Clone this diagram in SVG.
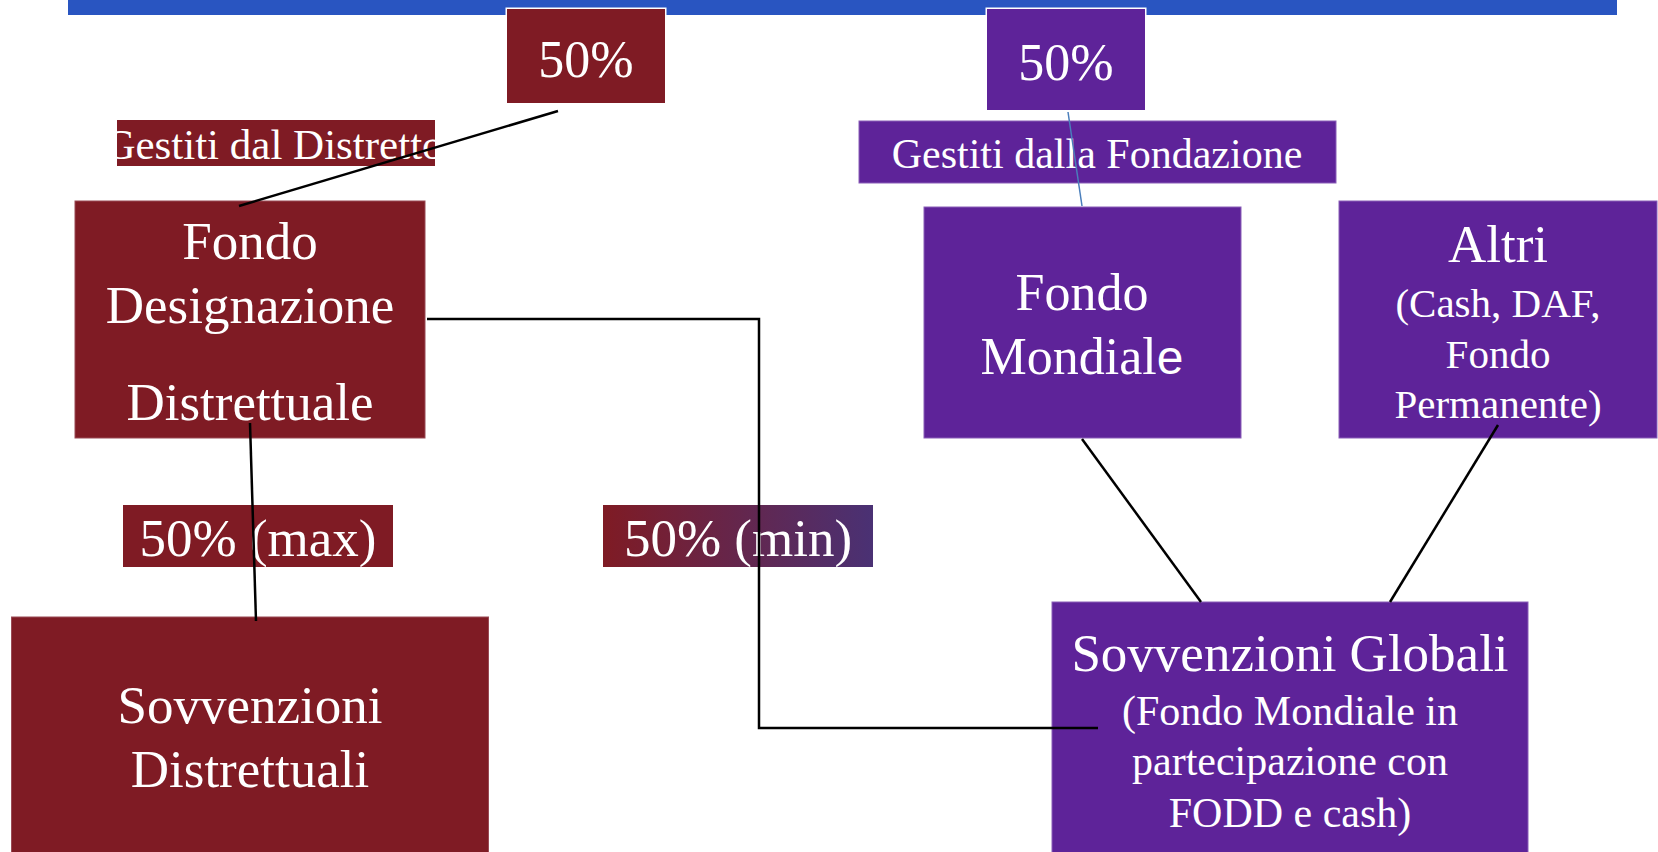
<svg xmlns="http://www.w3.org/2000/svg" width="1658" height="852" viewBox="0 0 1658 852">
<style>
.red{fill:#7F1B24;stroke:#9a4a55;stroke-width:1}
.pur{fill:#5E2399;stroke:#8a5fb8;stroke-width:1}
.t{font-family:"Liberation Serif","Times New Roman",serif;fill:#ffffff;text-anchor:middle}
.ln{fill:none;stroke:#000000;stroke-width:2.5}
</style>
<defs>
<linearGradient id="gmin" x1="0" y1="0" x2="1" y2="0">
<stop offset="0" stop-color="#7F1B24"/>
<stop offset="1" stop-color="#4A3174"/>
</linearGradient>
<clipPath id="clipGD"><rect x="117" y="120" width="318" height="46"/></clipPath>
</defs>
<rect id="bar" x="68" y="0" width="1549" height="15" fill="#2955C1"/>
<g id="n-50a">
<rect x="505.5" y="7.5" width="161" height="97" fill="#ffffff"/>
<rect x="507" y="9" width="158" height="94" fill="#7F1B24"/>
<text class="t" x="586" y="77" font-size="52">50%</text>
</g>
<g id="n-50b">
<rect x="985.5" y="7.5" width="161" height="104" fill="#ffffff"/>
<rect x="987" y="9" width="158" height="101" fill="#5E2399"/>
<text class="t" x="1066" y="80" font-size="52">50%</text>
</g>
<g id="n-gd">
<rect x="117" y="120" width="318" height="46" fill="#7F1B24"/>
<text class="t" x="274" y="159" font-size="43" clip-path="url(#clipGD)">Gestiti dal Distretto</text>
</g>
<g id="n-gf">
<rect class="pur" x="859" y="121" width="477" height="62"/>
<text class="t" x="1097" y="168" font-size="42">Gestiti dalla Fondazione</text>
</g>
<g id="n-fdd">
<rect class="red" x="75" y="201" width="350" height="237"/>
<text class="t" x="250" y="259" font-size="53">Fondo</text>
<text class="t" x="250" y="323" font-size="53">Designazione</text>
<text class="t" x="250" y="420" font-size="53">Distrettuale</text>
</g>
<g id="n-fm">
<rect class="pur" x="924" y="207" width="317" height="231"/>
<text class="t" x="1082" y="310" font-size="52">Fondo</text>
<text class="t" x="1082" y="374" font-size="52">Mondial<tspan font-family="Liberation Sans, Arial, sans-serif" font-size="48">e</tspan></text>
</g>
<g id="n-altri">
<rect class="pur" x="1339" y="201" width="318" height="237"/>
<text class="t" x="1498" y="262" font-size="53">Altri</text>
<text class="t" x="1498" y="317" font-size="41">(Cash, DAF,</text>
<text class="t" x="1498" y="368" font-size="41">Fondo</text>
<text class="t" x="1498" y="418" font-size="41">Permanente)</text>
</g>
<g id="n-max">
<rect x="123" y="505" width="270" height="62" fill="#7F1B24"/>
<text class="t" x="258" y="556" font-size="53">50% (max)</text>
</g>
<g id="n-min">
<rect x="603" y="505" width="270" height="62" fill="url(#gmin)"/>
<text class="t" x="738" y="556" font-size="53">50% (min)</text>
</g>
<g id="n-sd">
<rect class="red" x="11.5" y="617" width="477" height="240"/>
<text class="t" x="250" y="723" font-size="53">Sovvenzioni</text>
<text class="t" x="250" y="787" font-size="53">Distrettuali</text>
</g>
<g id="n-sg">
<rect class="pur" x="1052" y="602" width="476" height="255"/>
<text class="t" x="1290" y="671" font-size="53">Sovvenzioni Globali</text>
<text class="t" x="1290" y="725" font-size="42">(Fondo Mondiale in</text>
<text class="t" x="1290" y="775" font-size="42">partecipazione con</text>
<text class="t" x="1290" y="827" font-size="42">FODD e cash)</text>
</g>
<g id="connectors">
<line class="ln" x1="558" y1="111" x2="239" y2="206"/>
<line x1="1068" y1="112" x2="1082" y2="206" stroke="#4A7EBB" stroke-width="1.5"/>
<line class="ln" x1="250" y1="423" x2="256" y2="621"/>
<polyline class="ln" stroke-width="3" points="427,319 759,319 759,728 1098,728"/>
<line class="ln" x1="1082" y1="439" x2="1201" y2="602"/>
<line class="ln" x1="1498" y1="425" x2="1390" y2="602"/>
</g>
</svg>
